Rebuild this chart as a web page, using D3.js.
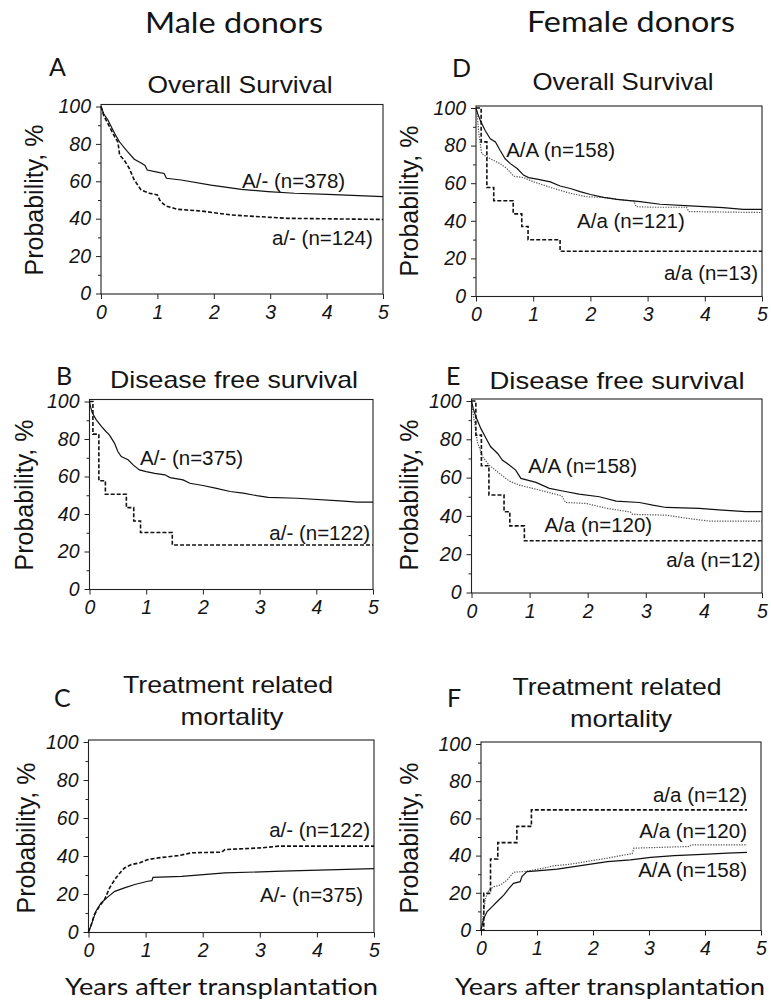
<!DOCTYPE html>
<html>
<head>
<meta charset="utf-8">
<script src="https://cdnjs.cloudflare.com/ajax/libs/d3/7.8.5/d3.min.js"></script>
<style>
  html, body { margin: 0; padding: 0; background: #ffffff; }
  svg { display: block; }
</style>
</head>
<body>
<svg id="chart" width="771" height="1008"></svg>
<script>
// ---------------- DATA ----------------
const xTickValues = [0, 1, 2, 3, 4, 5];
const yTickValues = [0, 20, 40, 60, 80, 100];
const yMinorTickValues = [10, 30, 50, 70, 90];

const columnTitles = ["Male donors", "Female donors"];
const panelLetters = ["A", "B", "C", "D", "E", "F"];
const panelTitles = [
  ["Overall Survival"], ["Disease free survival"], ["Treatment related", "mortality"],
  ["Overall Survival"], ["Disease free survival"], ["Treatment related", "mortality"]
];
const yAxisTitle = "Probability, %";
const xAxisTitle = "Years after transplantation";

// A: Overall survival, male donors
const osMale_A_t = [0, 0.05, 0.12, 0.24, 0.33, 0.47, 0.59, 0.72, 0.78, 0.82, 1.04, 1.12, 1.16, 1.42, 1.95, 2.49, 2.96, 3.43, 4.02, 5];
const osMale_A_p = [100, 96, 92.9, 85.7, 81, 75.9, 71.8, 69.6, 68.5, 66, 64.6, 64.2, 61.6, 60.7, 58, 55.7, 54.5, 53.6, 53, 51.8];
const osMale_a_t = [0, 0.05, 0.12, 0.24, 0.30, 0.33, 0.41, 0.5, 0.59, 0.71, 0.86, 1.0, 1.04, 1.1, 1.15, 1.36, 1.78, 2.31, 3.02, 3.31, 5];
const osMale_a_p = [100, 95, 91, 84, 81, 74, 71.4, 67, 60.7, 55.4, 53.6, 52.7, 50, 48, 46.8, 45, 44.1, 42, 40.7, 40.2, 39.6];

// B: Disease free survival, male donors
const dfsMale_A_t = [0, 0.02, 0.05, 0.12, 0.21, 0.29, 0.35, 0.44, 0.5, 0.56, 0.68, 0.77, 0.88, 1.0, 1.15, 1.33, 1.42, 1.65, 1.77, 2.0, 2.24, 2.48, 2.71, 2.95, 3.15, 3.66, 4.42, 4.72, 5];
const dfsMale_A_p = [100, 97, 93.8, 90.2, 86.7, 84, 82.2, 77.8, 73.3, 70.6, 68.9, 66.2, 63.5, 62.6, 61.7, 60.9, 59.4, 58.2, 56.4, 55.2, 53.7, 52, 51.1, 49.8, 48.9, 48.4, 47, 46.3, 46.3];
const dfsMale_a_t = [0, 0.06, 0.165, 0.28, 0.65, 0.78, 0.9, 1.46, 5];
const dfsMale_a_p = [100, 82.6, 57.7, 50.5, 43.4, 36.3, 30.1, 23.5, 23.5];

// C: Treatment related mortality, male donors
const trmMale_a_t = [0, 0.05, 0.1, 0.19, 0.28, 0.37, 0.46, 0.55, 0.63, 0.75, 0.9, 1.04, 1.22, 1.57, 1.81, 2.33, 2.39, 3.04, 3.33, 5];
const trmMale_a_p = [0, 3.9, 9.1, 13.5, 17, 23.2, 27.6, 31.1, 33.7, 35.5, 36.4, 38.1, 39, 40.2, 41.7, 42, 43.4, 44.3, 45.2, 45.2];
const trmMale_A_t = [0, 0.05, 0.13, 0.22, 0.34, 0.46, 0.63, 0.81, 1.04, 1.11, 1.13, 1.63, 2.39, 3.39, 5];
const trmMale_A_p = [0, 3.9, 10.9, 15.3, 18.5, 21.4, 23.2, 25, 26.7, 27, 28.8, 29.3, 31.1, 32, 33.4];

// D: Overall survival, female donors
const osFemale_AA_t = [0, 0.03, 0.076, 0.16, 0.25, 0.34, 0.42, 0.51, 0.6, 0.72, 0.83, 0.92, 1.09, 1.3, 1.47, 1.65, 1.82, 2.0, 2.23, 2.46, 2.87, 3.22, 3.74, 4.32, 4.67, 5];
const osFemale_AA_p = [100, 97, 93.3, 88, 83.6, 81.9, 77.5, 73, 70.4, 67.8, 64.3, 63, 62, 60.7, 58.5, 57.2, 55.5, 54, 52.5, 51.4, 50.2, 48.8, 47.9, 47, 46.1, 46.1];
const osFemale_Aa_t = [0, 0.03, 0.05, 0.1, 0.25, 0.42, 0.54, 0.66, 0.83, 1.01, 1.18, 1.36, 1.65, 1.94, 2.29, 2.58, 2.76, 2.8, 3.1, 3.68, 3.72, 5];
const osFemale_Aa_p = [100, 93, 86.3, 75.7, 73, 70.4, 67.8, 63.7, 63, 60.7, 59, 57.2, 54.6, 52.8, 52.3, 51, 50.5, 47.5, 47.2, 47.2, 44.9, 44.4];
const osFemale_aa_t = [0, 0.09, 0.19, 0.31, 0.65, 0.8, 0.91, 1.47, 5];
const osFemale_aa_p = [100, 82, 57.7, 50.7, 43.7, 37, 29.9, 23.8, 23.8];

// E: Disease free survival, female donors
const dfsFemale_AA_t = [0, 0.03, 0.075, 0.16, 0.25, 0.33, 0.45, 0.53, 0.65, 0.76, 0.85, 1.11, 1.34, 1.57, 1.85, 2.2, 2.49, 2.89, 3.12, 3.35, 3.92, 4.32, 4.72, 5];
const dfsFemale_AA_p = [100, 96, 91.8, 85.7, 80.5, 76.1, 72.6, 69.2, 66.6, 63.9, 59.6, 57.5, 54.4, 53, 51.4, 50, 47.7, 47, 45.6, 44.4, 43.9, 43, 42.2, 42.2];
const dfsFemale_Aa_t = [0, 0.02, 0.05, 0.1, 0.19, 0.3, 0.48, 0.65, 0.82, 1.05, 1.28, 1.55, 1.62, 1.97, 2.34, 2.74, 2.77, 3.35, 3.72, 4.09, 5];
const dfsFemale_Aa_p = [100, 95, 89.2, 78.7, 70.9, 66.6, 62.2, 58.2, 56.1, 54.4, 52.6, 50.5, 47, 46.5, 43.9, 42, 40.8, 40.4, 38.7, 37.3, 37.3];
const dfsFemale_aa_t = [0, 0.075, 0.17, 0.3, 0.56, 0.66, 0.91, 5];
const dfsFemale_aa_p = [100, 82.2, 66.2, 50.9, 42.2, 34.8, 27, 27];

// F: Treatment related mortality, female donors
const trmFemale_aa_t = [0, 0.05, 0.17, 0.3, 0.64, 0.9, 4.75];
const trmFemale_aa_p = [0, 19.7, 38.2, 47, 55.7, 64.6, 64.6];
const trmFemale_Aa_t = [0, 0.04, 0.08, 0.14, 0.23, 0.35, 0.47, 0.58, 0.76, 0.85, 1.06, 1.3, 1.6, 1.96, 2.26, 2.49, 2.7, 2.73, 3.72, 3.75, 4.75];
const trmFemale_Aa_p = [0, 8.1, 17, 21.5, 23.3, 24.2, 26.9, 31.1, 31.4, 31.8, 32.9, 34.5, 35.4, 37.2, 38.6, 40, 41, 44, 44.9, 45.8, 45.8];
const trmFemale_AA_t = [0, 0.05, 0.11, 0.2, 0.29, 0.41, 0.5, 0.58, 0.7, 0.73, 0.82, 1.0, 1.36, 1.66, 1.96, 2.26, 2.67, 3.03, 3.45, 4.05, 4.4, 4.75];
const trmFemale_AA_p = [0, 6.3, 9.9, 12.6, 15.3, 18.9, 22.4, 25.1, 26, 28.7, 31.4, 31.8, 32.7, 34.1, 35.4, 36.8, 37.7, 39, 40, 40.8, 41.3, 41.7];

// series labels: [text, x (years, right end), y (%, baseline)]
const labelsA = [["A/- (n=378)", 4.33, 56.4], ["a/- (n=124)", 4.82, 25.9]];
const labelsB = [["A/- (n=375)", 2.71, 66.1], ["a/- (n=122)", 4.95, 26.1]];
const labelsC = [["a/- (n=122)", 4.93, 50], ["A/- (n=375)", 4.81, 15.8]];
const labelsD = [["A/A (n=158)", 2.43, 73.9], ["A/a (n=121)", 3.65, 36.2], ["a/a (n=13)", 4.93, 8.5]];
const labelsE = [["A/A (n=158)", 2.85, 62.4], ["A/a (n=120)", 3.11, 31.6], ["a/a (n=12)", 4.97, 13.3]];
const labelsF = [["a/a (n=12)", 4.75, 68.8], ["A/a (n=120)", 4.75, 49.5], ["A/A (n=158)", 4.75, 28.5]];

// ---------------- LAYOUT / STYLE ----------------
const FONT_ARIAL = "'Liberation Sans', Arial, sans-serif";
const FONT_CAL = "Lato, 'Open Sans', sans-serif";
const INK = "#141414";

const styles = {
  solid:  { width: 1.2, dash: null, color: "#111" },
  dashed: { width: 1.6, dash: "4,2", color: "#111" },
  dotted: { width: 1.2, dash: "1.3,1.3", color: "#555" }
};

function zip(t, p) { return t.map((d, i) => ({ t: d, p: p[i] })); }

const panels = [
  { letter: "A", title: panelTitles[0], rect: [101, 106.5, 383, 293.5],
    letterPos: [49, 76], titlePos: [240, 93], titleW: [185], ylab: [43, 200],
    series: [
      { d: zip(osMale_A_t, osMale_A_p), s: "solid", step: false },
      { d: zip(osMale_a_t, osMale_a_p), s: "dashed", step: false }
    ], labels: labelsA, xTitle: null },
  { letter: "B", title: panelTitles[1], rect: [89.5, 401.5, 373, 589],
    letterPos: [56, 385], titlePos: [234, 388], titleW: [248], ylab: [33, 495],
    series: [
      { d: zip(dfsMale_A_t, dfsMale_A_p), s: "solid", step: false },
      { d: zip(dfsMale_a_t, dfsMale_a_p), s: "dashed", step: true }
    ], labels: labelsB, xTitle: null },
  { letter: "C", title: panelTitles[2], rect: [88.5, 742, 374, 932],
    letterPos: [54, 707], titlePos: [228, 693], titleW: [210, 103], ylab: [35, 838],
    series: [
      { d: zip(trmMale_a_t, trmMale_a_p), s: "dashed", step: false },
      { d: zip(trmMale_A_t, trmMale_A_p), s: "solid", step: false }
    ], labels: labelsC, xTitle: [221.5, 995, 313] },
  { letter: "D", title: panelTitles[3], rect: [476, 108, 762, 296],
    letterPos: [452, 77], titlePos: [623, 90], titleW: [181], ylab: [418, 201],
    series: [
      { d: zip(osFemale_Aa_t, osFemale_Aa_p), s: "dotted", step: false },
      { d: zip(osFemale_AA_t, osFemale_AA_p), s: "solid", step: false },
      { d: zip(osFemale_aa_t, osFemale_aa_p), s: "dashed", step: true }
    ], labels: labelsD, xTitle: null },
  { letter: "E", title: panelTitles[4], rect: [471.5, 401, 762, 592.5],
    letterPos: [446, 385], titlePos: [617, 389], titleW: [255], ylab: [418, 495],
    series: [
      { d: zip(dfsFemale_Aa_t, dfsFemale_Aa_p), s: "dotted", step: false },
      { d: zip(dfsFemale_AA_t, dfsFemale_AA_p), s: "solid", step: false },
      { d: zip(dfsFemale_aa_t, dfsFemale_aa_p), s: "dashed", step: true }
    ], labels: labelsE, xTitle: null },
  { letter: "F", title: panelTitles[5], rect: [481, 744, 761, 930],
    letterPos: [447, 707], titlePos: [617, 695], titleW: [209, 102], ylab: [418, 838],
    series: [
      { d: zip(trmFemale_Aa_t, trmFemale_Aa_p), s: "dotted", step: false },
      { d: zip(trmFemale_AA_t, trmFemale_AA_p), s: "solid", step: false },
      { d: zip(trmFemale_aa_t, trmFemale_aa_p), s: "dashed", step: true }
    ], labels: labelsF, xTitle: [610, 995, 310] }
];

// ---------------- DRAW ----------------
const svg = d3.select("#chart");
svg.append("rect").attr("width", 771).attr("height", 1008).attr("fill", "#ffffff");

// column titles
const colTitlePos = [[234, 33, 178], [631, 32, 208]];
columnTitles.forEach((t, i) => {
  svg.append("text")
    .attr("x", colTitlePos[i][0]).attr("y", colTitlePos[i][1])
    .attr("text-anchor", "middle")
    .attr("font-family", FONT_CAL).attr("font-size", 28)
    .attr("textLength", colTitlePos[i][2]).attr("lengthAdjust", "spacingAndGlyphs")
    .attr("fill", INK).text(t);
});

panels.forEach(P => {
  const [x0, y0, x1, y1] = P.rect;
  const x = d3.scaleLinear().domain([0, 5]).range([x0, x1]);
  const y = d3.scaleLinear().domain([0, 100]).range([y1, y0]);
  const g = svg.append("g");

  // frame
  g.append("rect")
    .attr("x", x(0)).attr("y", y(100) - 2)
    .attr("width", x(5) - x(0)).attr("height", y(0) - y(100) + 2.5)
    .attr("fill", "none").attr("stroke", "#222").attr("stroke-width", 1.1);

  // axes
  const ax = g.append("g").attr("transform", `translate(0,${y(0) + 0.5})`)
    .call(d3.axisBottom(x).tickValues(xTickValues).tickSize(5).tickPadding(6).tickFormat(d3.format("d")));
  const ay = g.append("g").attr("transform", `translate(${x(0)},0)`)
    .call(d3.axisLeft(y).tickValues(yTickValues).tickSize(5).tickPadding(5).tickFormat(d3.format("d")));
  const aym = g.append("g").attr("transform", `translate(${x(0)},0)`)
    .call(d3.axisLeft(y).tickValues(yMinorTickValues).tickSize(3).tickFormat(""));
  [ax, ay, aym].forEach(a => {
    a.select(".domain").remove();
    a.selectAll(".tick line").attr("stroke", "#222").attr("stroke-width", 1);
    a.selectAll("text")
      .attr("font-family", FONT_ARIAL).attr("font-size", 19.5)
      .attr("font-style", "italic").attr("fill", INK);
  });

  // curves
  P.series.forEach(S => {
    const st = styles[S.s];
    const line = d3.line().x(d => x(d.t)).y(d => y(d.p))
      .curve(S.step ? d3.curveStepAfter : d3.curveLinear);
    g.append("path").datum(S.d)
      .attr("d", line)
      .attr("fill", "none")
      .attr("stroke", st.color)
      .attr("stroke-width", st.width)
      .attr("stroke-dasharray", st.dash)
      .attr("stroke-linejoin", "miter");
  });

  // series labels
  P.labels.forEach(L => {
    g.append("text")
      .attr("x", x(L[1])).attr("y", y(L[2]))
      .attr("text-anchor", "end")
      .attr("font-family", FONT_ARIAL).attr("font-size", 20.5)
      .attr("fill", INK).text(L[0]);
  });

  // panel letter
  svg.append("text")
    .attr("x", P.letterPos[0]).attr("y", P.letterPos[1])
    .attr("font-family", FONT_CAL).attr("font-size", 25)
    .attr("fill", INK).text(P.letter);

  // panel title
  P.title.forEach((t, i) => {
    svg.append("text")
      .attr("x", P.titlePos[0] + (i ? 4 : 0)).attr("y", P.titlePos[1] + i * 32)
      .attr("text-anchor", "middle")
      .attr("font-family", FONT_ARIAL).attr("font-size", 24)
      .attr("textLength", P.titleW[i]).attr("lengthAdjust", "spacingAndGlyphs")
      .attr("fill", INK).text(t);
  });

  // y axis title
  svg.append("text")
    .attr("transform", `translate(${P.ylab[0]},${P.ylab[1]}) rotate(-90)`)
    .attr("text-anchor", "middle")
    .attr("font-family", FONT_ARIAL).attr("font-size", 25)
    .attr("fill", INK).text(yAxisTitle);

  // x axis title
  if (P.xTitle) {
    svg.append("text")
      .attr("x", P.xTitle[0]).attr("y", P.xTitle[1])
      .attr("text-anchor", "middle")
      .attr("font-family", FONT_CAL).attr("font-size", 24)
      .attr("textLength", P.xTitle[2]).attr("lengthAdjust", "spacingAndGlyphs")
      .attr("fill", INK).text(xAxisTitle);
  }
});
</script>
</body>
</html>
